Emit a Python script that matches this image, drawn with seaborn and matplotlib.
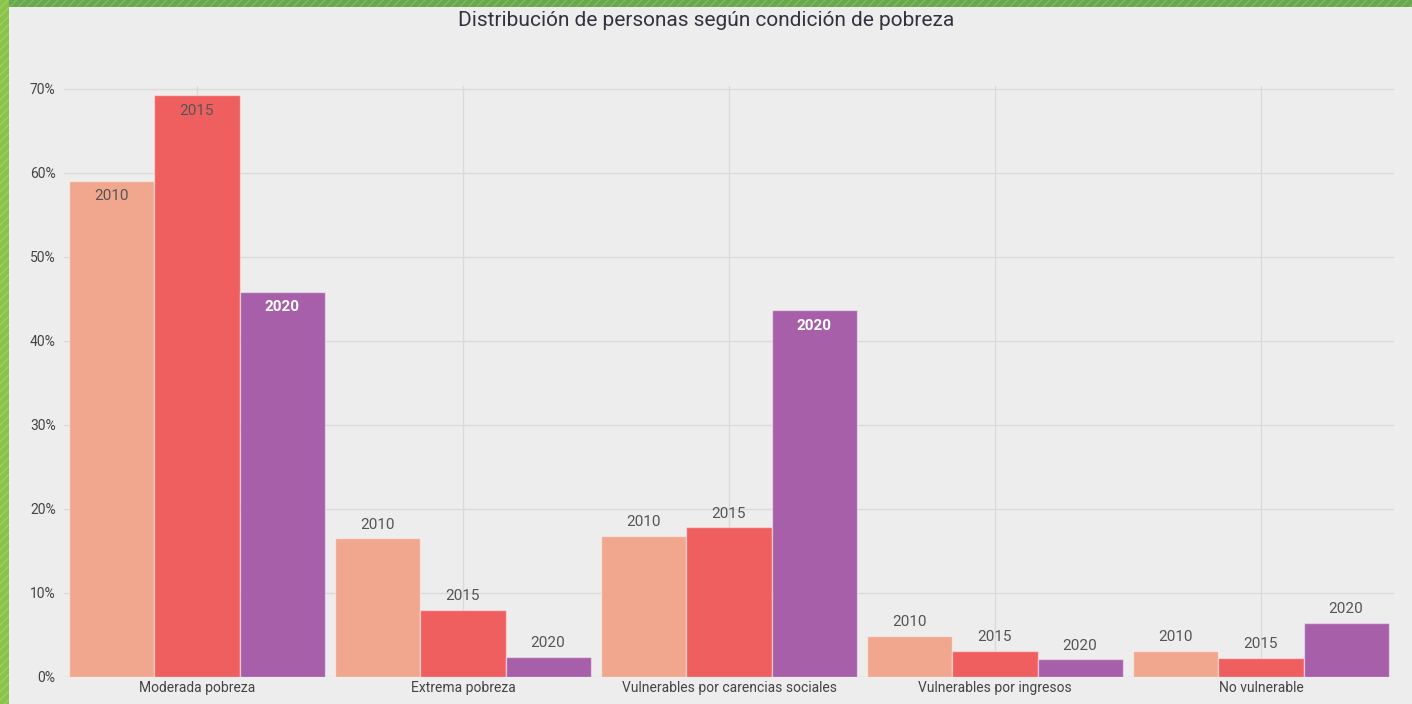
import pandas as pd
import matplotlib
matplotlib.use("Agg")
import matplotlib.pyplot as plt
import seaborn as sns
from matplotlib.patches import Rectangle

# Data
categories = ["Moderada pobreza", "Extrema pobreza", "Vulnerables por carencias sociales",
              "Vulnerables por ingresos", "No vulnerable"]
years = ["2010", "2015", "2020"]
values_2010 = [59.0, 16.5, 16.8, 4.9, 3.1]
values_2015 = [69.2, 8.0, 17.8, 3.1, 2.3]
values_2020 = [45.8, 2.4, 43.6, 2.1, 6.4]
yticks = [0, 10, 20, 30, 40, 50, 60, 70]

colors = ["#F0A78E", "#F05F5F", "#A65FA8"]
bg = "#EDEDED"

df = pd.DataFrame({
    "categoria": categories * 3,
    "anio": [y for y in years for _ in categories],
    "valor": values_2010 + values_2015 + values_2020,
})

sns.set_style("whitegrid")
plt.rcParams["font.family"] = ["Roboto", "DejaVu Sans"]

fig = plt.figure(figsize=(14.12, 7.04), dpi=100)
fig.patch.set_facecolor(bg)
ax = fig.add_axes([64 / 1412, 27 / 704, 1330 / 1412, 591 / 704])
ax.set_facecolor(bg)

sns.barplot(data=df, x="categoria", y="valor", hue="anio", palette=colors,
            width=0.96, gap=0, edgecolor=(1, 1, 1, 0.45), linewidth=1,
            saturation=1, legend=False, ax=ax)

ax.set_xlim(-0.5, 4.5)
ax.set_ylim(0, 70.3)
ax.set_yticks(yticks)
ax.set_yticklabels([f"{t}%" for t in yticks])
ax.set_xlabel("")
ax.set_ylabel("")
ax.grid(True, color="#DADADA", linewidth=1.0)
ax.set_axisbelow(True)
for s in ax.spines.values():
    s.set_visible(False)
ax.tick_params(axis="both", length=0, labelsize=10, colors="#444444")
ax.tick_params(axis="y", pad=6)
ax.tick_params(axis="x", pad=3)

# year labels on bars
for i, cont in enumerate(ax.containers):
    yr = years[i]
    for bar in cont:
        h = bar.get_height()
        x = bar.get_x() + bar.get_width() / 2
        if h > 30:
            if yr == "2020":
                ax.text(x, h - 1.0, yr, ha="center", va="top", fontsize=11,
                        color="white", fontweight="bold")
            else:
                ax.text(x, h - 1.0, yr, ha="center", va="top", fontsize=11,
                        color="#555555")
        else:
            ax.text(x, h + 0.8, yr, ha="center", va="bottom", fontsize=11,
                    color="#555555")

fig.text(0.5, 1 - 20 / 704, "Distribución de personas según condición de pobreza",
         ha="center", va="center", fontsize=15, color="#333340")

# green hatched frame (top and left)
fig.patches.append(Rectangle((0, 1 - 7 / 704), 1, 7 / 704, transform=fig.transFigure,
                             facecolor="#6AA84F", edgecolor="#7DBB5E", hatch="////",
                             linewidth=0, zorder=5))
fig.patches.append(Rectangle((0, 0), 9 / 1412, 1, transform=fig.transFigure,
                             facecolor="#8BC34A", edgecolor="#9CCF5E", hatch="////",
                             linewidth=0, zorder=5))

fig.savefig("out.png", dpi=100, facecolor=bg)
